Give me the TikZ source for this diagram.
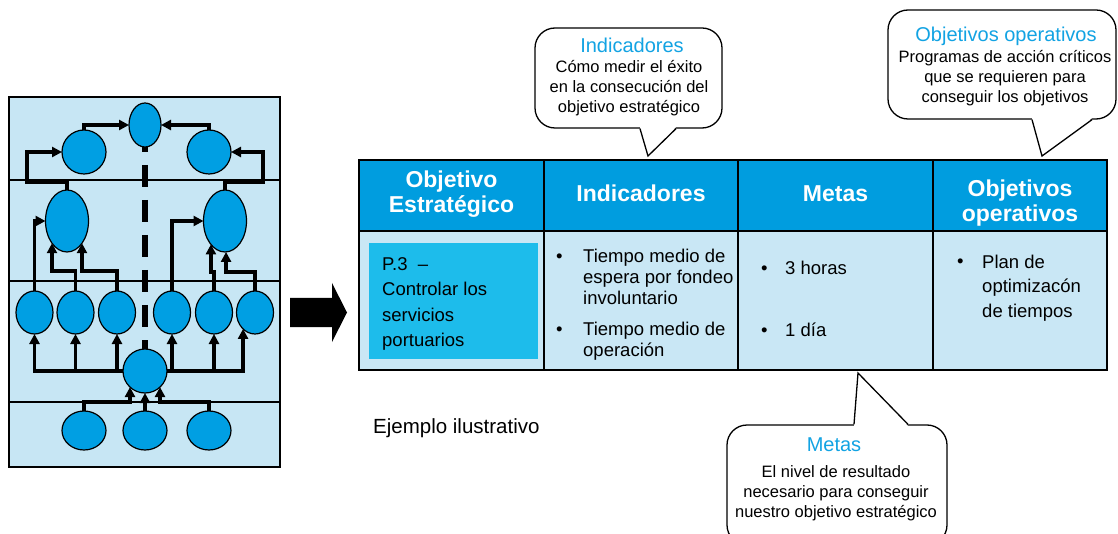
\documentclass[tikz,border=0pt]{standalone}
\usepackage{fontspec}
\setmainfont{Liberation Sans}
\usetikzlibrary{shapes.geometric,arrows.meta}

\definecolor{panelblue}{RGB}{199,230,244}
\definecolor{bubbleblue}{RGB}{0,159,227}
\definecolor{headblue}{RGB}{0,157,223}
\definecolor{cellblue}{RGB}{201,231,245}
\definecolor{boxblue}{RGB}{29,188,235}
\definecolor{titleblue}{RGB}{18,163,227}

\tikzset{
  bubble/.style={ellipse, draw, line width=1.2pt, fill=bubbleblue, inner sep=0pt, outer sep=0pt},
  flow/.style={line width=3.3pt, -{Triangle[length=10pt,width=10pt]}},
  headcell/.style={rectangle, draw, line width=1.5pt, fill=headblue, inner sep=0pt, outer sep=0pt, minimum height=71pt},
  bodycell/.style={rectangle, draw, line width=1.5pt, fill=cellblue, inner sep=0pt, outer sep=0pt, minimum height=139pt},
  headtext/.style={text=white, font=\fontsize{23}{25}\selectfont\bfseries, align=center, inner sep=0pt, anchor=base},
  bodytext/.style={font=\fontsize{18.5}{21}\selectfont, align=left, inner sep=0pt, anchor=base west},
  callout/.style={rectangle, draw, line width=1.3pt, fill=white, rounded corners=20pt, inner sep=0pt},
  callouttitle/.style={text=titleblue, font=\fontsize{20}{22}\selectfont, inner sep=0pt, anchor=base},
  callouttext/.style={font=\fontsize{16.5}{20}\selectfont, align=center, inner sep=0pt, anchor=base},
}

\begin{document}
\begin{tikzpicture}[x=1pt,y=-1pt]
    \useasboundingbox (0,0) rectangle (1118,534);
    \clip (0,0) rectangle (1118,534);

    % map of objectives
    \draw[fill=panelblue, line width=2pt] (9,97) rectangle (280,467);
    \foreach \y in {180,281,402}
        \draw[line width=1.2pt] (9,\y) -- (280,\y);

    \node[bubble, minimum width=32pt, minimum height=44pt] (top) at (145,125) {};
    \node[bubble, minimum width=44pt, minimum height=44pt] (upl) at (84,152) {};
    \node[bubble, minimum width=44pt, minimum height=44pt] (upr) at (209,152) {};
    \node[bubble, minimum width=43pt, minimum height=62pt] (midl) at (67,221) {};
    \node[bubble, minimum width=43pt, minimum height=62pt] (midr) at (225,221) {};
    \foreach \x [count=\i] in {34.5,75.5,117,172,214,255}
        \node[bubble, minimum width=37pt, minimum height=43pt] (row\i) at (\x,312.5) {};
    \node[bubble, minimum width=44pt, minimum height=44pt] (hub) at (145,371) {};
    \foreach \x [count=\i] in {84,145,209}
        \node[bubble, minimum width=44pt, minimum height=39pt] (base\i) at (\x,430.5) {};

    \draw[flow] (upl.north) |- (top.west);
    \draw[flow] (upr.north) |- (top.east);
    \draw[flow] (midl.north) -- ++(0,-8) -- ++(-40,0) |- (upl.west);
    \draw[flow] (midr.north) -- ++(0,-8) -- ++(38,0) |- (upr.east);
    \draw[flow] (row1.north) |- (midl.west);
    \draw[flow] (row2.north) -- ++(0,-20) -| (midl.236);
    \draw[flow] (row3.north) -- ++(0,-20) -| (midl.304);
    \draw[flow] (row4.north) |- (midr.west);
    \draw[flow] (row5.north) -- ++(0,-19) -| (midr.239);
    \draw[flow] (row6.north) -- ++(0,-19) -| (midr.272);
    \foreach \i in {1,2,3}
        \draw[flow] (hub.west) -| (row\i.south);
    \foreach \i in {4,5}
        \draw[flow] (hub.east) -| (row\i.south);
    \draw[flow] (hub.east) -| (row6.234);
    \draw[flow] (base1.north) -- ++(0,-9) -| (hub.227);
    \draw[flow] (base2.north) -- (hub.south);
    \draw[flow] (base3.north) -- ++(0,-9) -| (hub.313);
    \draw[line width=6pt, dash pattern=on 22pt off 13pt, dash phase=17pt] (top.south) -- (hub.north);

    % block arrow
    \fill (290,298) -- (332,298) -- (332,283) -- (347,312.5) -- (332,342) -- (332,327) -- (290,327) -- cycle;

    % table
    \node[headcell, minimum width=185pt] (hobj) at (451.5,195.5) {};
    \node[headcell, minimum width=194pt] (hind) at (641,195.5) {};
    \node[headcell, minimum width=195pt] (hmet) at (835.5,195.5) {};
    \node[headcell, minimum width=174pt] (hope) at (1020,195.5) {};
    \node[bodycell, minimum width=185pt] (cobj) at (451.5,300.5) {};
    \node[bodycell, minimum width=194pt] (cind) at (641,300.5) {};
    \node[bodycell, minimum width=195pt] (cmet) at (835.5,300.5) {};
    \node[bodycell, minimum width=174pt] (cope) at (1020,300.5) {};
    \draw[line width=2pt] (hobj.north west) rectangle (cope.south east);
    \draw[line width=2pt] (hobj.south west) -- (hope.south east);

    \node[headtext] (tobj) at (451.5,213) {Objetivo\\Estratégico};
    \node[headtext] (tind) at (641,202) {Indicadores};
    \node[headtext] (tmet) at (835.5,202) {Metas};
    \node[headtext] (tope) at (1020,222) {Objetivos\\operativos};

    \node[fill=boxblue, minimum width=169pt, minimum height=116pt, inner sep=0pt] (goal) at (453.5,301) {};
    \node[bodytext, font=\fontsize{18.5}{25.5}\selectfont] (goaltext) at (382,346.5) {P.3~~–\\Controlar los\\servicios\\portuarios};

    \node[bodytext] (dot1) at (556,263) {•};
    \node[bodytext] (ind1) at (583,305) {Tiempo medio de\\espera por fondeo\\involuntario};
    \node[bodytext] (dot2) at (556,335) {•};
    \node[bodytext] (ind2) at (583,356) {Tiempo medio de\\operación};
    \node[bodytext] (dot3) at (761,275) {•};
    \node[bodytext] (met1) at (785,275) {3 horas};
    \node[bodytext] (dot4) at (761,337) {•};
    \node[bodytext] (met2) at (785,337) {1 día};
    \node[bodytext, font=\fontsize{18.5}{24.5}\selectfont] (dot5) at (957,268) {•};
    \node[bodytext, font=\fontsize{18.5}{24.5}\selectfont] (ope1) at (982,317) {Plan de\\optimizacón\\de tiempos};

    \node[anchor=base west, inner sep=0pt, font=\fontsize{20.5}{24}\selectfont] (example) at (373,433) {Ejemplo ilustrativo};

    % callouts
    \node[callout, minimum width=187pt, minimum height=100pt] (indnote) at (628.5,78) {};
    \coordinate (indtip) at (648,156);
    \fill[white] ([xshift=11.5pt,yshift=1.5pt]indnote.south) -- (indtip) -- ([xshift=47.5pt,yshift=1.5pt]indnote.south) -- cycle;
    \draw[line width=1.3pt] ([xshift=11.5pt]indnote.south) -- (indtip) -- ([xshift=47.5pt]indnote.south);
    \node[callouttitle] (indhead) at (632,53) {Indicadores};
    \node[callouttext] (indbody) at (629,113) {Cómo medir el éxito\\en la consecución del\\objetivo estratégico};

    \node[callout, minimum width=228pt, minimum height=109pt] (openote) at (1002,64.5) {};
    \coordinate (opetip) at (1042,156);
    \fill[white] ([xshift=30pt,yshift=1.5pt]openote.south) -- (opetip) -- ([xshift=90pt,yshift=1.5pt]openote.south) -- cycle;
    \draw[line width=1.3pt] ([xshift=30pt]openote.south) -- (opetip) -- ([xshift=90pt]openote.south);
    \node[callouttitle] (opehead) at (1006,42) {Objetivos operativos};
    \node[callouttext] (opebody) at (1005,103) {Programas de acción críticos\\que se requieren para\\conseguir los objetivos};

    \node[callout, minimum width=220pt, minimum height=120pt] (metnote) at (837,485) {};
    \coordinate (mettip) at (858,373);
    \fill[white] ([xshift=17pt,yshift=-1.5pt]metnote.north) -- (mettip) -- ([xshift=71pt,yshift=-1.5pt]metnote.north) -- cycle;
    \draw[line width=1.3pt] ([xshift=17pt]metnote.north) -- (mettip) -- ([xshift=71pt]metnote.north);
    \node[callouttitle] (methead) at (834,451) {Metas};
    \node[callouttext] (metbody) at (836,517) {El nivel de resultado\\necesario para conseguir\\nuestro objetivo estratégico};
\end{tikzpicture}
\end{document}
